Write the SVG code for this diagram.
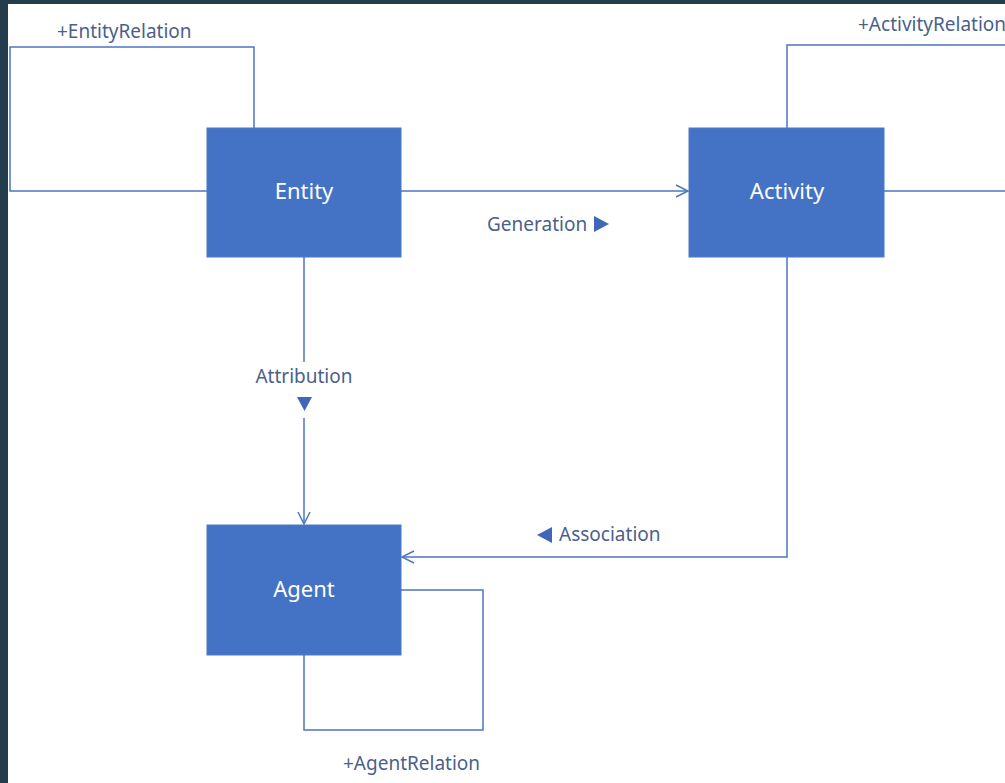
<svg xmlns="http://www.w3.org/2000/svg" width="1005" height="783" viewBox="0 0 1005 783">
  <style>
    .node rect { fill: #4472c4; stroke: #4f79c6; stroke-width: 1; }
    .node text { fill: #ffffff; font-family: "Noto Sans", "Open Sans", sans-serif; font-size: 22px; text-anchor: middle; }
    .wire { fill: none; stroke: #4e76c0; stroke-width: 1.5; }
    .lbl { fill: #4b5f8c; font-family: "Noto Sans", "Open Sans", sans-serif; font-size: 19px; }
    .tri { fill: #3f66b8; }
  </style>
  <defs>
    <marker id="open" markerUnits="userSpaceOnUse" markerWidth="16" markerHeight="16" refX="13" refY="7" orient="auto">
      <path d="M1,1 L13,7 L1,13" fill="none" stroke="#4e76c0" stroke-width="1.5"/>
    </marker>
  </defs>

  <!-- frame -->
  <rect x="0" y="0" width="1005" height="783" fill="#233d4d"/>
  <rect x="8" y="4" width="997" height="779" fill="#ffffff"/>

  <g id="connectors">
    <!-- Entity self relation -->
    <polyline class="wire" points="207,191 10,191 10,47 254,47 254,128"/>
    <!-- Activity self relation -->
    <polyline class="wire" points="787,128 787,45 1010,45"/>
    <line class="wire" x1="884" y1="191" x2="1010" y2="191"/>
    <!-- Generation -->
    <line class="wire" x1="401" y1="191" x2="688" y2="191" marker-end="url(#open)"/>
    <!-- Attribution -->
    <line class="wire" x1="304" y1="257" x2="304" y2="362"/>
    <line class="wire" x1="304" y1="418" x2="304" y2="524" marker-end="url(#open)"/>
    <!-- Association -->
    <polyline class="wire" points="787,257 787,557 402,557" marker-end="url(#open)"/>
    <!-- Agent self relation -->
    <polyline class="wire" points="401,590 483,590 483,730 304,730 304,655"/>

    <text class="lbl" x="57" y="38">+EntityRelation</text>
    <text class="lbl" x="858" y="31">+ActivityRelation</text>
    <text class="lbl" x="487" y="231">Generation</text>
    <path class="tri" d="M594,216 L609,224 L594,232 Z"/>
    <text class="lbl" x="304" y="383" text-anchor="middle">Attribution</text>
    <path class="tri" d="M297,397 L312,397 L304.5,411 Z"/>
    <path class="tri" d="M552,527 L552,543 L537,535 Z"/>
    <text class="lbl" x="559" y="541">Association</text>
    <text class="lbl" x="343" y="770">+AgentRelation</text>
  </g>

  <g id="entity" class="node">
    <rect x="207" y="128" width="194" height="129"/>
    <text x="304" y="199">Entity</text>
  </g>
  <g id="activity" class="node">
    <rect x="689" y="128" width="195" height="129"/>
    <text x="787" y="199">Activity</text>
  </g>
  <g id="agent" class="node">
    <rect x="207" y="525" width="194" height="130"/>
    <text x="304" y="597">Agent</text>
  </g>
</svg>
